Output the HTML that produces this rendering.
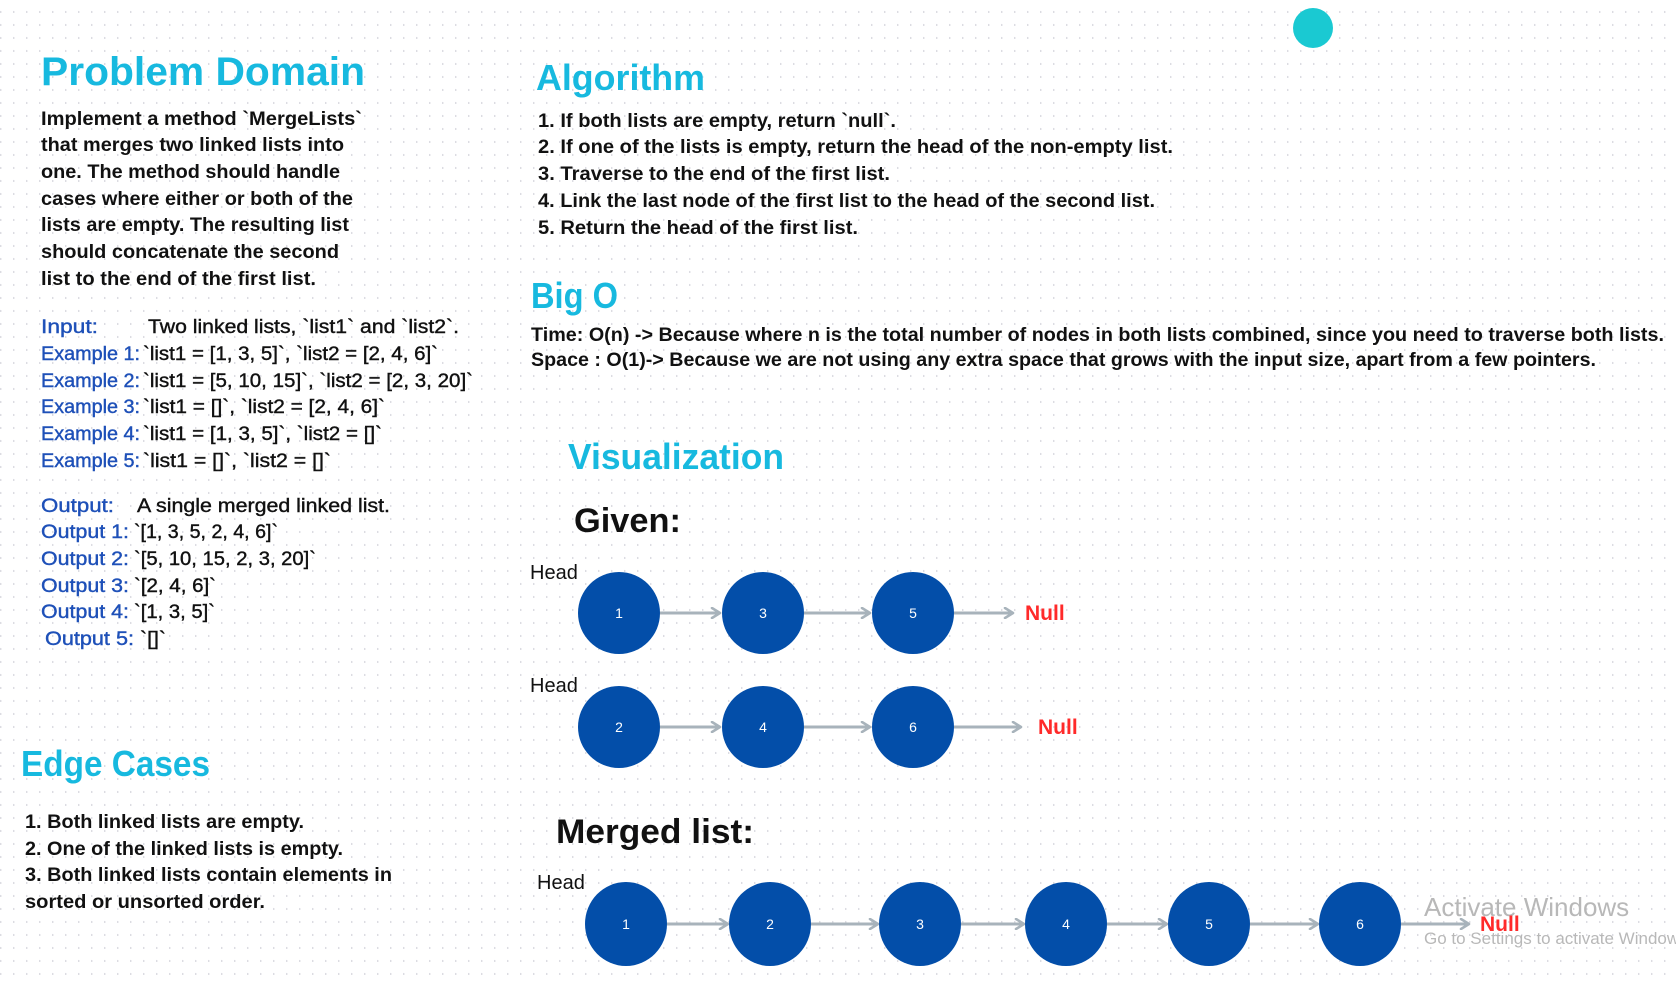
<!DOCTYPE html>
<html><head><meta charset="utf-8"><style>
html,body{margin:0;padding:0;background:#fff;}
svg{display:block;font-family:"Liberation Sans",sans-serif;}
</style></head><body>
<svg width="1676" height="981" viewBox="0 0 1676 981" xmlns="http://www.w3.org/2000/svg">
<defs>
<pattern id="dots" x="0" y="0" width="13" height="13" patternUnits="userSpaceOnUse">
<circle cx="0.5" cy="12" r="1.1" fill="#dcdce2"/>
</pattern>
<marker id="ah" viewBox="0 0 12 12" refX="10" refY="6" markerWidth="12" markerHeight="12" markerUnits="userSpaceOnUse" orient="auto">
<path d="M2,1 L10,6 L2,11" fill="none" stroke="#a8b3bb" stroke-width="2.6" stroke-linecap="round" stroke-linejoin="round"/>
</marker>
</defs>
<rect width="1676" height="981" fill="#fff"/>
<rect width="1676" height="981" fill="url(#dots)"/>
<circle cx="1313" cy="28" r="20" fill="#1ac9d2"/>

<g font-weight="bold">
<text x="41" y="85" font-size="40" fill="#17b9df" textLength="324" lengthAdjust="spacingAndGlyphs">Problem Domain</text>
<g font-size="19" fill="#111">
<text x="41" y="125" textLength="321" lengthAdjust="spacingAndGlyphs">Implement a method `MergeLists`</text>
<text x="41" y="151" textLength="303" lengthAdjust="spacingAndGlyphs">that merges two linked lists into</text>
<text x="41" y="178" textLength="299" lengthAdjust="spacingAndGlyphs">one. The method should handle</text>
<text x="41" y="205" textLength="312" lengthAdjust="spacingAndGlyphs">cases where either or both of the</text>
<text x="41" y="231" textLength="308" lengthAdjust="spacingAndGlyphs">lists are empty. The resulting list</text>
<text x="41" y="258" textLength="298" lengthAdjust="spacingAndGlyphs">should concatenate the second</text>
<text x="41" y="285" textLength="275" lengthAdjust="spacingAndGlyphs">list to the end of the first list.</text>
</g>
</g>

<g font-size="19" stroke-width="0.4">
<g fill="#1e50b8" stroke="#1e50b8">
<text x="41" y="333" textLength="57" lengthAdjust="spacingAndGlyphs">Input:</text>
<text x="41" y="360" textLength="99" lengthAdjust="spacingAndGlyphs">Example 1:</text>
<text x="41" y="387" textLength="99" lengthAdjust="spacingAndGlyphs">Example 2:</text>
<text x="41" y="413" textLength="99" lengthAdjust="spacingAndGlyphs">Example 3:</text>
<text x="41" y="440" textLength="99" lengthAdjust="spacingAndGlyphs">Example 4:</text>
<text x="41" y="467" textLength="99" lengthAdjust="spacingAndGlyphs">Example 5:</text>
<text x="41" y="512" textLength="73" lengthAdjust="spacingAndGlyphs">Output:</text>
<text x="41" y="538" textLength="88" lengthAdjust="spacingAndGlyphs">Output 1:</text>
<text x="41" y="565" textLength="88" lengthAdjust="spacingAndGlyphs">Output 2:</text>
<text x="41" y="592" textLength="88" lengthAdjust="spacingAndGlyphs">Output 3:</text>
<text x="41" y="618" textLength="88" lengthAdjust="spacingAndGlyphs">Output 4:</text>
<text x="45" y="645" textLength="89" lengthAdjust="spacingAndGlyphs">Output 5:</text>
</g>
<g fill="#111" stroke="#111">
<text x="148" y="333" textLength="311" lengthAdjust="spacingAndGlyphs">Two linked lists, `list1` and `list2`.</text>
<text x="143" y="360" textLength="295" lengthAdjust="spacingAndGlyphs">`list1 = [1, 3, 5]`, `list2 = [2, 4, 6]`</text>
<text x="143" y="387" textLength="330" lengthAdjust="spacingAndGlyphs">`list1 = [5, 10, 15]`, `list2 = [2, 3, 20]`</text>
<text x="143" y="413" textLength="242" lengthAdjust="spacingAndGlyphs">`list1 = []`, `list2 = [2, 4, 6]`</text>
<text x="143" y="440" textLength="239" lengthAdjust="spacingAndGlyphs">`list1 = [1, 3, 5]`, `list2 = []`</text>
<text x="143" y="467" textLength="188" lengthAdjust="spacingAndGlyphs">`list1 = []`, `list2 = []`</text>
<text x="137" y="512" textLength="253" lengthAdjust="spacingAndGlyphs">A single merged linked list.</text>
<text x="134" y="538" textLength="144" lengthAdjust="spacingAndGlyphs">`[1, 3, 5, 2, 4, 6]`</text>
<text x="134" y="565" textLength="182" lengthAdjust="spacingAndGlyphs">`[5, 10, 15, 2, 3, 20]`</text>
<text x="134" y="592" textLength="82" lengthAdjust="spacingAndGlyphs">`[2, 4, 6]`</text>
<text x="134" y="618" textLength="81" lengthAdjust="spacingAndGlyphs">`[1, 3, 5]`</text>
<text x="140" y="645" textLength="26" lengthAdjust="spacingAndGlyphs">`[]`</text>
</g>
</g>

<g font-weight="bold">
<text x="21" y="776" font-size="36" fill="#17b9df" textLength="189" lengthAdjust="spacingAndGlyphs">Edge Cases</text>
<g font-size="19" fill="#111">
<text x="25" y="828" textLength="279" lengthAdjust="spacingAndGlyphs">1. Both linked lists are empty.</text>
<text x="25" y="855" textLength="318" lengthAdjust="spacingAndGlyphs">2. One of the linked lists is empty.</text>
<text x="25" y="881" textLength="367" lengthAdjust="spacingAndGlyphs">3. Both linked lists contain elements in</text>
<text x="25" y="908" textLength="240" lengthAdjust="spacingAndGlyphs">sorted or unsorted order.</text>
</g>

<text x="536" y="90" font-size="36" fill="#17b9df" textLength="169" lengthAdjust="spacingAndGlyphs">Algorithm</text>
<g font-size="19" fill="#111">
<text x="538" y="127" textLength="358" lengthAdjust="spacingAndGlyphs">1. If both lists are empty, return `null`.</text>
<text x="538" y="153" textLength="635" lengthAdjust="spacingAndGlyphs">2. If one of the lists is empty, return the head of the non-empty list.</text>
<text x="538" y="180" textLength="352" lengthAdjust="spacingAndGlyphs">3. Traverse to the end of the first list.</text>
<text x="538" y="207" textLength="617" lengthAdjust="spacingAndGlyphs">4. Link the last node of the first list to the head of the second list.</text>
<text x="538" y="234" textLength="320" lengthAdjust="spacingAndGlyphs">5. Return the head of the first list.</text>
</g>

<text x="531" y="308" font-size="36" fill="#17b9df" textLength="87" lengthAdjust="spacingAndGlyphs">Big O</text>
<g font-size="19" fill="#111">
<text x="531" y="341" textLength="1133" lengthAdjust="spacingAndGlyphs">Time: O(n) -&gt; Because where n is the total number of nodes in both lists combined, since you need to traverse both lists.</text>
<text x="531" y="366" textLength="1065" lengthAdjust="spacingAndGlyphs">Space : O(1)-&gt; Because we are not using any extra space that grows with the input size, apart from a few pointers.</text>
</g>

<text x="568" y="469" font-size="36" fill="#17b9df" textLength="216" lengthAdjust="spacingAndGlyphs">Visualization</text>
<text x="574" y="532" font-size="34" fill="#111" textLength="107" lengthAdjust="spacingAndGlyphs">Given:</text>
<text x="556" y="843" font-size="34" fill="#111" textLength="198" lengthAdjust="spacingAndGlyphs">Merged list:</text>
</g>

<g font-size="20" fill="#111">
<text x="530" y="579">Head</text>
<text x="530" y="692">Head</text>
<text x="537" y="889">Head</text>
</g>

<g stroke="#a8b3bb" stroke-width="3" fill="none" marker-end="url(#ah)">
<line x1="660" y1="613" x2="720" y2="613"/>
<line x1="804" y1="613" x2="870" y2="613"/>
<line x1="954" y1="613" x2="1013" y2="613"/>
<line x1="660" y1="727" x2="720" y2="727"/>
<line x1="804" y1="727" x2="870" y2="727"/>
<line x1="954" y1="727" x2="1021" y2="727"/>
<line x1="667" y1="924" x2="728" y2="924"/>
<line x1="811" y1="924" x2="878" y2="924"/>
<line x1="961" y1="924" x2="1024" y2="924"/>
<line x1="1107" y1="924" x2="1167" y2="924"/>
<line x1="1250" y1="924" x2="1318" y2="924"/>
<line x1="1401" y1="924" x2="1469" y2="924"/>
</g>

<g fill="#034ea9">
<ellipse cx="619" cy="613" rx="41" ry="41"/>
<ellipse cx="763" cy="613" rx="41" ry="41"/>
<ellipse cx="913" cy="613" rx="41" ry="41"/>
<ellipse cx="619" cy="727" rx="41" ry="41"/>
<ellipse cx="763" cy="727" rx="41" ry="41"/>
<ellipse cx="913" cy="727" rx="41" ry="41"/>
<ellipse cx="626" cy="924" rx="41" ry="42"/>
<ellipse cx="770" cy="924" rx="41" ry="42"/>
<ellipse cx="920" cy="924" rx="41" ry="42"/>
<ellipse cx="1066" cy="924" rx="41" ry="42"/>
<ellipse cx="1209" cy="924" rx="41" ry="42"/>
<ellipse cx="1360" cy="924" rx="41" ry="42"/>
</g>
<g fill="#fff" font-size="14" text-anchor="middle">
<text x="619" y="618">1</text><text x="763" y="618">3</text><text x="913" y="618">5</text>
<text x="619" y="732">2</text><text x="763" y="732">4</text><text x="913" y="732">6</text>
<text x="626" y="929">1</text><text x="770" y="929">2</text><text x="920" y="929">3</text>
<text x="1066" y="929">4</text><text x="1209" y="929">5</text><text x="1360" y="929">6</text>
</g>

<text x="1424" y="916" font-size="26" fill="#b8b8b8">Activate Windows</text>
<text x="1424" y="944" font-size="17" fill="#b8b8b8">Go to Settings to activate Windows.</text>

<g font-size="21" font-weight="bold" fill="#ff2a2a">
<text x="1025" y="620">Null</text>
<text x="1038" y="734">Null</text>
<text x="1480" y="931">Null</text>
</g>
</svg>
</body></html>
